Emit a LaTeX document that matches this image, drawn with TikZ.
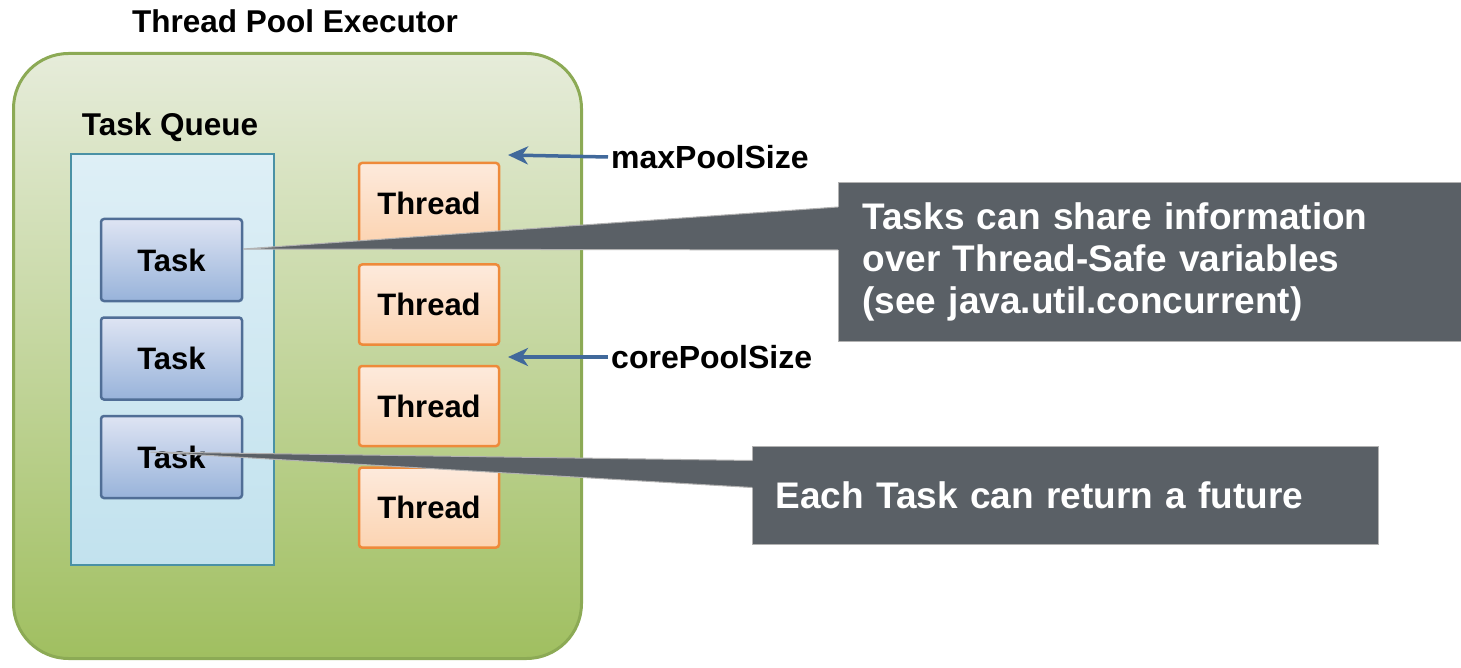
\documentclass[tikz,border=0pt]{standalone}
\usepackage{fontspec}
\setmainfont{Liberation Sans}
\usetikzlibrary{positioning, arrows.meta}
\definecolor{pooltop}{RGB}{230,236,218}
\definecolor{poolbot}{RGB}{160,191,96}
\definecolor{poolline}{RGB}{140,170,85}
\definecolor{queuetop}{RGB}{222,239,246}
\definecolor{queuebot}{RGB}{194,226,238}
\definecolor{queueline}{RGB}{74,145,165}
\definecolor{tasktop}{RGB}{222,228,243}
\definecolor{taskbot}{RGB}{152,179,218}
\definecolor{taskline}{RGB}{80,110,150}
\definecolor{threadtop}{RGB}{253,234,220}
\definecolor{threadbot}{RGB}{252,212,178}
\definecolor{threadline}{RGB}{238,138,58}
\definecolor{ptrblue}{RGB}{65,105,155}
\definecolor{noteback}{RGB}{90,96,102}

\begin{document}
\begin{tikzpicture}[
    x=1pt, y=-1pt,
    caption/.style={font=\fontsize{31.5}{36}\selectfont\bfseries, inner sep=3pt},
    taskbox/.style={rectangle, draw=taskline, line width=2.5pt, rounded corners=3pt,
        top color=tasktop, bottom color=taskbot, minimum width=141pt, minimum height=82pt,
        font=\fontsize{31}{36}\selectfont\bfseries},
    threadbox/.style={rectangle, draw=threadline, line width=2.5pt, rounded corners=3pt,
        top color=threadtop, bottom color=threadbot, minimum width=140pt, minimum height=80pt,
        font=\fontsize{31}{36}\selectfont\bfseries},
    ptr/.style={-{Stealth[length=20pt, width=18pt, inset=6pt]}, draw=ptrblue, line width=3.5pt},
    notebox/.style={rectangle, fill=noteback, draw=gray!60, line width=1pt, text=white,
        align=left, anchor=north west, font=\fontsize{37}{42}\selectfont\bfseries},
    wedge/.style={fill=noteback},
    wedgeline/.style={draw=gray!60, line width=1pt}
]
\useasboundingbox (0,0) rectangle (1461,668);

% === EXECUTOR ===
\node[rectangle, draw=poolline, line width=3pt, rounded corners=55pt,
      top color=pooltop, bottom color=poolbot,
      minimum width=568pt, minimum height=605pt] (pool) at (297.5,356) {};
\node[caption] (pool_lbl) at (295,21) {Thread Pool Executor};

% === TASK QUEUE ===
\node[rectangle, draw=queueline, line width=2.5pt,
      top color=queuetop, bottom color=queuebot,
      minimum width=203pt, minimum height=411pt] (queue) at (172.5,359.5) {};
\node[caption] (queue_lbl) at (170,127) {Task Queue};

\node[taskbox] (task1) at (171.5,260) {Task};
\node[taskbox, below=14pt of task1] (task2) {Task};
\node[taskbox, below=14pt of task2] (task3) {Task};

% === THREADS ===
\node[threadbox] (thread1) at (429,203) {Thread};
\node[threadbox, below=19pt of thread1] (thread2) {Thread};
\node[threadbox, below=19pt of thread2] (thread3) {Thread};
\node[threadbox, below=19pt of thread3] (thread4) {Thread};

% Pool size markers
\coordinate (max_tip) at (508,155);
\coordinate (core_tip) at (508,357);
\node[caption, anchor=west, font=\fontsize{32}{36}\selectfont\bfseries] (max_lbl) at (608,157) {maxPoolSize};
\node[caption, anchor=west, font=\fontsize{32}{36}\selectfont\bfseries] (core_lbl) at (608,357) {corePoolSize};
\draw[ptr] (max_lbl.west) -- (max_tip);
\draw[ptr] (core_lbl.west) -- (core_tip);

% === NOTES ===
\node[notebox, text width=575pt, inner xsep=24pt, minimum height=159pt] (note_share) at (838,182)
    {Tasks can share information\\over Thread-Safe variables\\(see java.util.concurrent)};
\node[notebox, text width=580pt, inner xsep=23pt, minimum height=98pt] (note_future) at (752,446)
    {Each Task can return a future};

% Note pointers
\path[wedge] ([yshift=11pt]task1.east) -- ([yshift=55pt]note_share.west)
    -- ([yshift=55pt,xshift=3pt]note_share.west) -- ([yshift=12pt,xshift=3pt]note_share.west)
    -- ([yshift=12pt]note_share.west) -- cycle;
\draw[wedgeline] ([yshift=55pt]note_share.west) -- ([yshift=11pt]task1.east)
    -- ([yshift=12pt]note_share.west);
\path[wedge] ([xshift=-21pt,yshift=5pt]task3.center) -- ([yshift=35pt]note_future.west)
    -- ([yshift=35pt,xshift=3pt]note_future.west) -- ([yshift=8pt,xshift=3pt]note_future.west)
    -- ([yshift=8pt]note_future.west) -- cycle;
\draw[wedgeline] ([yshift=35pt]note_future.west) -- ([xshift=-21pt,yshift=5pt]task3.center)
    -- ([yshift=8pt]note_future.west);

\end{tikzpicture}
\end{document}
